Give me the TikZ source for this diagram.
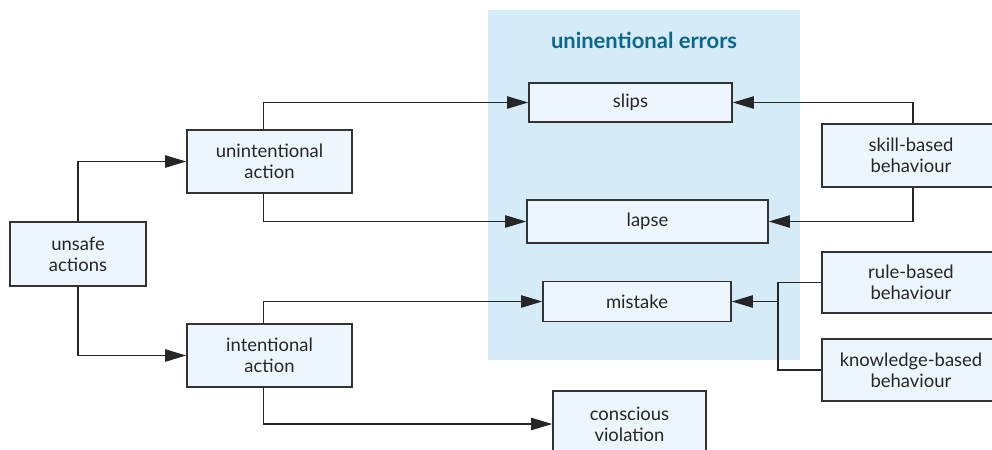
\documentclass[tikz,border=0pt]{standalone}
\usepackage{fontspec}
\setmainfont{Lato}
\usetikzlibrary{positioning,arrows.meta,calc}
\definecolor{ErrBg}{HTML}{D5EBF8}
\definecolor{ErrHead}{HTML}{0B6790}
\definecolor{BoxFill}{HTML}{EEF6FD}

\begin{document}
\begin{tikzpicture}[
  x=0.02cm,y=-0.02cm,
  font=\fontsize{10.5}{11.8}\selectfont,
  b/.style={draw=black!80,line width=0.9pt,fill=BoxFill,align=center,inner sep=2pt,text=black!85},
  ar/.style={-{Triangle[length=12pt,width=7pt]},draw=black!85,line width=0.8pt},
  ln/.style={draw=black!85,line width=0.8pt},
]
% coordinates are in pixels of the 992x450 frame; the right column and the
% violation box run past the frame and are clipped by it
\clip (0,0) rectangle (992,450);
\useasboundingbox (0,0) rectangle (992,450);
\fill[ErrBg] (488,10) rectangle (800,360);
\node[font=\fontsize{12.5}{14}\selectfont\bfseries,text=ErrHead] (head) at (644,40) {uninentional errors};

\node[b,minimum width=2.72cm,minimum height=1.28cm] (unsafe) at (78,254) {unsafe\\actions};
\node[b,minimum width=3.3cm,minimum height=1.26cm] (uninten) at (269.5,161.5) {unintentional\\action};
\node[b,minimum width=3.3cm,minimum height=1.26cm] (inten) at (269.5,355.5) {intentional\\action};
\node[b,minimum width=4.06cm,minimum height=0.78cm] (slips) at (630.5,102.5) {slips};
\node[b,minimum width=4.82cm,minimum height=0.86cm] (lapse) at (647.5,221.5) {lapse};
\node[b,minimum width=3.76cm,minimum height=0.80cm] (mistake) at (637,301.5) {mistake};
\node[b,minimum width=3.06cm,minimum height=1.32cm] (violation) at (629.5,424) {conscious\\violation};
\node[b,minimum width=3.56cm,minimum height=1.26cm] (skill) at (911,155.5) {skill-based\\behaviour};
\node[b,minimum width=3.56cm,minimum height=1.22cm] (rule) at (911,282.5) {rule-based\\behaviour};
\node[b,minimum width=3.56cm,minimum height=1.24cm] (know) at (911,370) {knowledge-based\\behaviour};
\coordinate (join) at (778,301.5);

\draw[ar] (unsafe.north) |- (uninten.west);
\draw[ar] (unsafe.south) |- (inten.west);
\draw[ar] ($(uninten.north)+(-6,0)$) |- (slips.west);
\draw[ar] ($(uninten.south)+(-6,0)$) |- (lapse.west);
\draw[ar] ($(inten.north)+(-6,0)$) |- (mistake.west);
\draw[ar] ($(inten.south)+(-6,0)$) |- (violation.west);
\draw[ar] ($(skill.north)+(2,0)$) |- (slips.east);
\draw[ar] ($(skill.south)+(2,0)$) |- (lapse.east);
\draw[ln] (rule.west) -| (join) |- (know.west);
\draw[ar] (join) -- (mistake.east);
\end{tikzpicture}
\end{document}
